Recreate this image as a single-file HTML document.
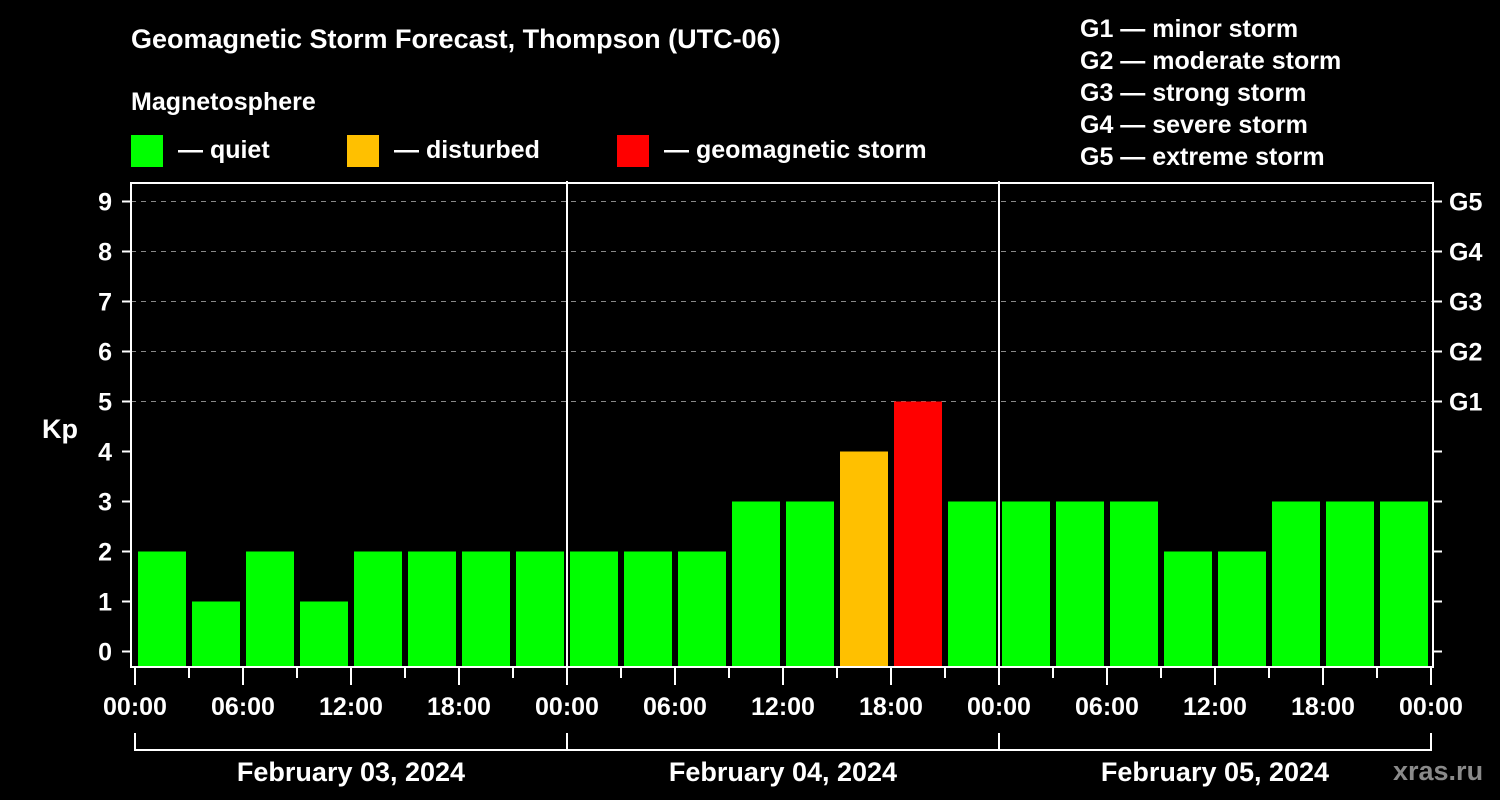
<!DOCTYPE html>
<html><head><meta charset="utf-8"><style>
body{margin:0;background:#000;width:1500px;height:800px;overflow:hidden}
svg{display:block}
text{font-family:"Liberation Sans",sans-serif;font-weight:bold;fill:#fff}
</style></head><body>
<svg id="chart" width="1500" height="800" xmlns="http://www.w3.org/2000/svg">
<rect width="1500" height="800" fill="#000"/>
<text x="131" y="48" font-size="27">Geomagnetic Storm Forecast, Thompson (UTC-06)</text>
<text x="131" y="110" font-size="25">Magnetosphere</text>
<g><rect x="131" y="135" width="32" height="32" fill="#00ff00"/><text x="178" y="158" font-size="25">— quiet</text></g>
<g><rect x="347" y="135" width="32" height="32" fill="#ffc000"/><text x="394" y="158" font-size="25">— disturbed</text></g>
<g><rect x="617" y="135" width="32" height="32" fill="#ff0000"/><text x="664" y="158" font-size="25">— geomagnetic storm</text></g>
<g font-size="25">
<text x="1080" y="37">G1 — minor storm</text>
<text x="1080" y="69">G2 — moderate storm</text>
<text x="1080" y="101">G3 — strong storm</text>
<text x="1080" y="133">G4 — severe storm</text>
<text x="1080" y="165">G5 — extreme storm</text>
</g>
<text x="42" y="438" font-size="27">Kp</text>
<text x="1393" y="780" font-size="27" fill="#888" style="fill:#8a8a8a">xras.ru</text>
<g id="grid"></g><g id="bars"></g><g id="axes"></g>
</svg>
<script>
const kpValues=[2,1,2,1,2,2,2,2, 2,2,2,3,3,4,5,3, 3,3,3,2,2,3,3,3];
const hourLabels=["00:00","06:00","12:00","18:00","00:00","06:00","12:00","18:00","00:00","06:00","12:00","18:00","00:00"];
const dateLabels=["February 03, 2024","February 04, 2024","February 05, 2024"];
const yTicks=[0,1,2,3,4,5,6,7,8,9];
const gLabels=["G1","G2","G3","G4","G5"];
const NS="http://www.w3.org/2000/svg";
const x0=135,hourPx=18,y0=651.5,unit=50;
const X=h=>x0+h*hourPx, Y=v=>y0-v*unit;
function mk(tag,attrs,parent,txt){const e=document.createElementNS(NS,tag);for(const k in attrs)e.setAttribute(k,attrs[k]);if(txt!==undefined)e.textContent=txt;parent.appendChild(e);return e;}
const grid=document.getElementById('grid'),bars=document.getElementById('bars'),axes=document.getElementById('axes');
const L=131,R=1433,T=183,B=667;
for(let v=5;v<=9;v++){const l=mk('line',{x1:L,x2:R,y1:Y(v),y2:Y(v),stroke:'#888','stroke-dasharray':'5,5','stroke-width':1},grid);

}
kpValues.forEach((v,i)=>{const c=v>=5?'#ff0000':(v>=4?'#ffc000':'#00ff00');
const r=mk('rect',{x:X(i*3)+3,y:Y(v),width:48,height:B-Y(v),fill:c},bars);

});
const fr=mk('rect',{x:L,y:T,width:R-L,height:B-T,fill:'none',stroke:'#fff','stroke-width':2},axes);


[24,48].forEach(h=>{const l=mk('line',{x1:X(h),x2:X(h),y1:T-2,y2:B,stroke:'#fff','stroke-width':2},axes);

});
yTicks.forEach(v=>{mk('line',{x1:122,x2:L,y1:Y(v),y2:Y(v),stroke:'#fff','stroke-width':2},axes);
mk('line',{x1:R,x2:1442,y1:Y(v),y2:Y(v),stroke:'#fff','stroke-width':2},axes);
const t=mk('text',{x:112,y:Y(v)+9,'font-size':25,'text-anchor':'end'},axes,String(v));

});
gLabels.forEach((g,i)=>{const t=mk('text',{x:1449,y:Y(5+i)+9,'font-size':25},axes,g);

});
for(let h=0;h<=72;h+=3){const major=h%6===0;mk('line',{x1:X(h),x2:X(h),y1:B,y2:major?685:678,stroke:'#fff','stroke-width':2},axes);}
hourLabels.forEach((s,i)=>{const t=mk('text',{x:X(i*6),y:715,'font-size':25,'text-anchor':'middle'},axes,s);

});
mk('path',{d:`M${X(0)} 733V750H${X(72)}V733M${X(24)} 733V750M${X(48)} 733V750`,fill:'none',stroke:'#fff','stroke-width':2},axes);
dateLabels.forEach((s,i)=>{const t=mk('text',{x:X(i*24+12),y:781,'font-size':27,'text-anchor':'middle'},axes,s);

});
</script>
</body></html>
